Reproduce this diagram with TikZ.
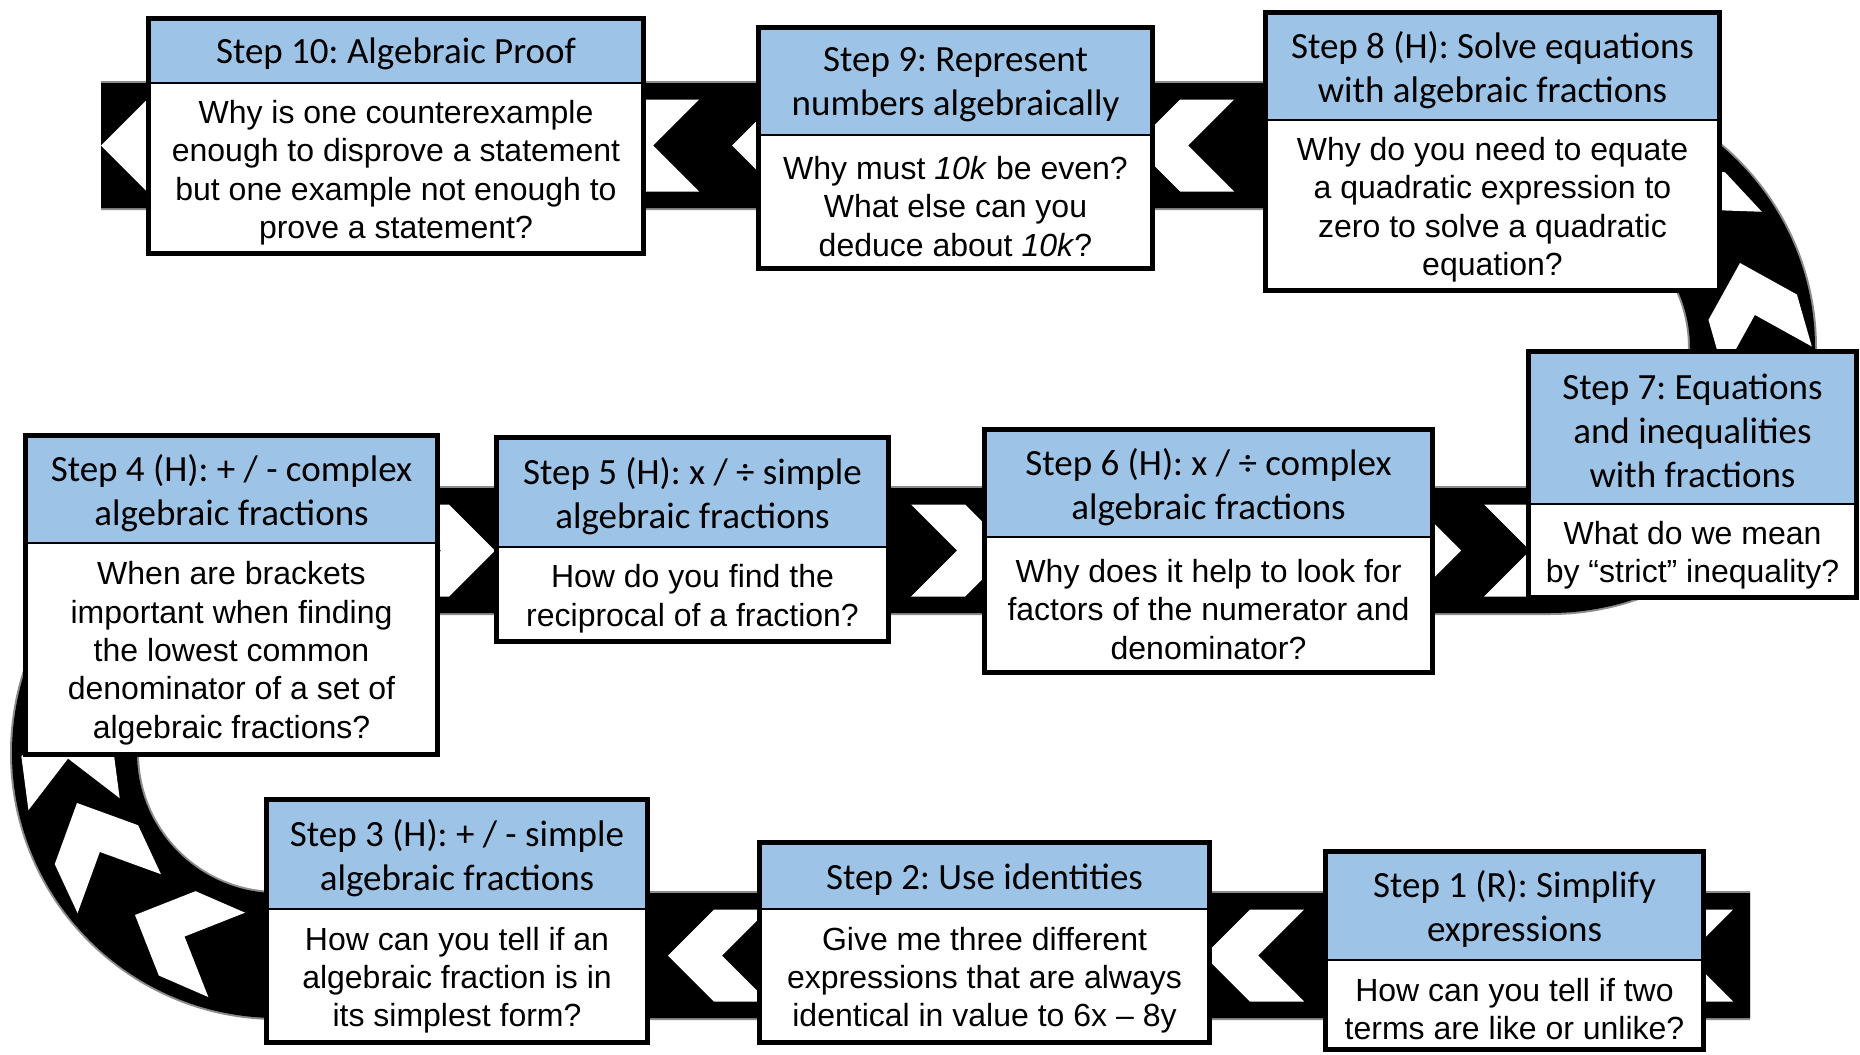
\documentclass[tikz,border=0pt]{standalone}
\usepackage{fontspec}
\usetikzlibrary{fit}
\newfontfamily\hdrfam{Carlito}
\newfontfamily\bodyfam{Liberation Sans}
\definecolor{hblue}{HTML}{9DC3E6}
\frenchspacing
\tikzset{
  hdrbox/.style={fill=hblue, draw=none, inner sep=0pt},
  bodybox/.style={fill=white, draw=none, inner sep=0pt},
  hdrtext/.style={inner sep=0pt, align=center, yshift=-1.6pt,
    font={\hdrfam\frenchspacing\fontsize{18.5}{22}\selectfont}},
  bodytext/.style={inner sep=0pt, align=center, yshift=-2.4pt,
    font={\bodyfam\frenchspacing\fontsize{16}{19.2}\selectfont}},
  outerline/.style={draw=black, line width=2.25pt},
  midline/.style={draw=black, line width=1pt},
  roadedge/.style={draw=black!45, line width=64.5pt},
  roadline/.style={draw=black, line width=62.5pt},
  chevfill/.style={fill=white},
}
% name, x1, x2, y1, ymid, y2, header, body
\newcommand\mkstep[8]{%
  \node[hdrbox, fit={(#2,#4) (#3,#5)}] (#1h) {};
  \node[bodybox, fit={(#2,#5) (#3,#6)}] (#1b) {};
  \node[hdrtext] (#1ht) at (#1h.center) {#7};
  \node[bodytext] (#1bt) at (#1b.center) {#8};
  \draw[outerline] (#1h.north west) rectangle (#1b.south east);
  \draw[midline] (#1h.south west) -- (#1h.south east);
}
% tip x, tip y, pointing angle (screen, y down)
\newcommand\chev[3]{%
  \fill[chevfill]
    ({#1},{#2})
    -- ({#1-46*cos(#3)-46*sin(#3)},{#2-46*sin(#3)+46*cos(#3)})
    -- ({#1-100*cos(#3)-46*sin(#3)},{#2-100*sin(#3)+46*cos(#3)})
    -- ({#1-54*cos(#3)},{#2-54*sin(#3)})
    -- ({#1-100*cos(#3)+46*sin(#3)},{#2-100*sin(#3)-46*cos(#3)})
    -- ({#1-46*cos(#3)+46*sin(#3)},{#2-46*sin(#3)-46*cos(#3)})
    -- cycle;
}
\begin{document}
\begin{tikzpicture}[x=0.5pt, y=-0.5pt]
\useasboundingbox (0,0) rectangle (1860,1055);
\fill[white] (0,0) rectangle (1860,1055);
% road
\draw[roadedge] (101,145.5) -- (1550,145.5)
  arc[start angle=-90, end angle=90, radius=202.5] -- (277,550.5)
  arc[start angle=-90, end angle=-270, radius=202.5] -- (1750,955.5);
\draw[roadline] (101,145.5) -- (1550,145.5)
  arc[start angle=-90, end angle=90, radius=202.5] -- (277,550.5)
  arc[start angle=-90, end angle=-270, radius=202.5] -- (1750,955.5);
% chevrons: top row (pointing left)
\chev{101}{145.5}{180}
\chev{599}{145.5}{180}
\chev{732}{145.5}{180}
\chev{1134}{145.5}{180}
% right turn
\chev{1660}{170}{227}
\chev{1740}{263}{254}
% middle row (pointing right)
\chev{495}{550.5}{0}
\chev{1011}{550.5}{0}
\chev{1461}{550.5}{0}
\chev{1584}{550.5}{0}
% left turn
\chev{61}{705}{262.5}
\chev{77}{803}{245}
\chev{135}{915}{203.5}
% bottom row (pointing left)
\chev{668}{955.5}{180}
\chev{1204}{955.5}{180}
\chev{1633}{955.5}{180}
% steps
\mkstep{s10}{149}{643}{19}{83}{253}{Step 10: Algebraic Proof}
  {Why is one counterexample\\enough to disprove a statement\\but one example not enough to\\prove a statement?}
\mkstep{s9}{759}{1152}{28}{135}{268}{Step 9: Represent\\numbers algebraically}
  {Why must \textit{10k} be even?\\What else can you\\deduce about \textit{10k}?}
\mkstep{s8}{1266}{1719}{13}{120}{290}{Step 8 (H): Solve equations\\with algebraic fractions}
  {Why do you need to equate\\a quadratic expression to\\zero to solve a quadratic\\equation?}
\mkstep{s7}{1529}{1856}{352}{504}{597}{Step 7: Equations\\and inequalities\\with fractions}
  {What do we mean\\by “strict” inequality?}
\mkstep{s6}{985}{1432}{430}{537}{672}{Step 6 (H): x / ÷ complex\\algebraic fractions}
  {Why does it help to look for\\factors of the numerator and\\denominator?}
\mkstep{s5}{497}{888}{438}{547}{641}{Step 5 (H): x / ÷ simple\\algebraic fractions}
  {How do you find the\\reciprocal of a fraction?}
\mkstep{s4}{26}{437}{436}{543}{754}{Step 4 (H): + / - complex\\algebraic fractions}
  {When are brackets\\important when finding\\the lowest common\\denominator of a set of\\algebraic fractions?}
\mkstep{s3}{267}{647}{800}{909}{1042}{Step 3 (H): + / - simple\\algebraic fractions}
  {How can you tell if an\\algebraic fraction is in\\its simplest form?}
\mkstep{s2}{760}{1209}{843}{909}{1042}{Step 2: Use identities}
  {Give me three different\\expressions that are always\\identical in value to 6x – 8y}
\mkstep{s1}{1326}{1703}{852}{960}{1049}{Step 1 (R): Simplify\\expressions}
  {How can you tell if two\\terms are like or unlike?}
\end{tikzpicture}
\end{document}
